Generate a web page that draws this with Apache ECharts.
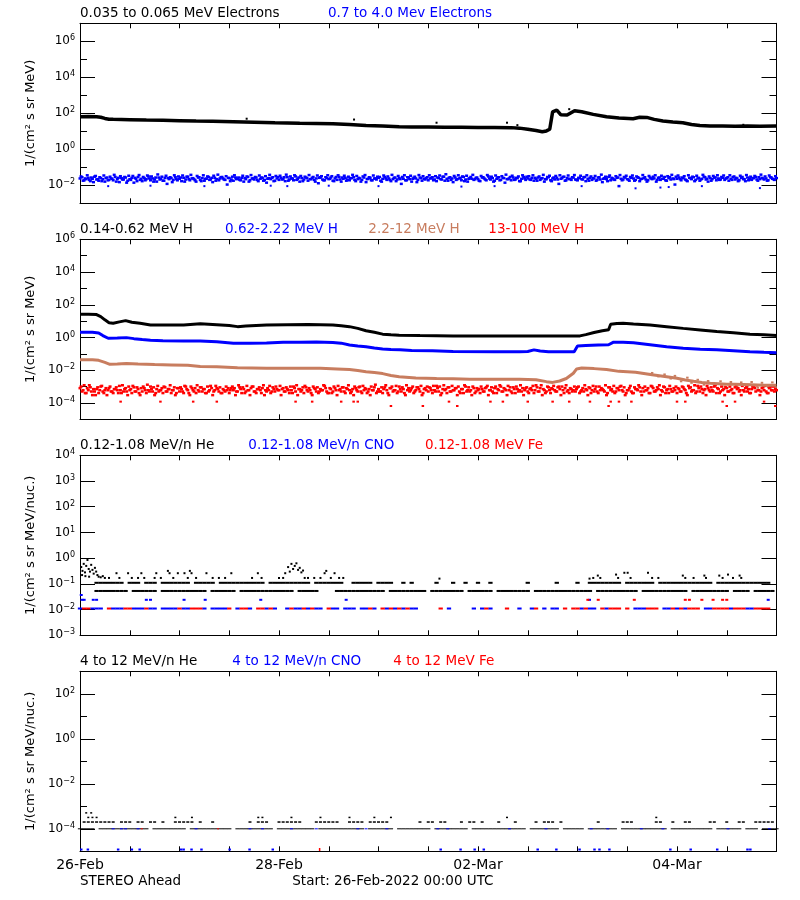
<!DOCTYPE html>
<html><head><meta charset="utf-8">
<script src="https://cdn.jsdelivr.net/npm/echarts@6/dist/echarts.min.js"></script>
<style>html,body{margin:0;padding:0;background:#fff}#c{width:800px;height:900px}</style>
</head><body><div id="c"></div>
<script>
const _ = null;
/* ---------- axis / text data ---------- */
const xTickHours = [0, 48, 96, 144];
const xTickLabels = ['26-Feb', '28-Feb', '02-Mar', '04-Mar'];
const footerLeft = 'STEREO Ahead';
const footerRight = 'Start: 26-Feb-2022 00:00 UTC';
const yRangeExp = [[-3, 7], [-5, 6], [-3, 4], [-5, 3]];
const yLabelExp = [[-2, 0, 2, 4, 6], [-4, -2, 0, 2, 4, 6], [-3, -2, -1, 0, 1, 2, 3, 4], [-4, -2, 0, 2]];
const yMinorExp = [[-1, 1, 3, 5], [-3, -1, 1, 3, 5], [], [-3, -1, 1]];
const yNames = ['1/(cm² s sr MeV)', '1/(cm² s sr MeV)', '1/(cm² s sr MeV/nuc.)', '1/(cm² s sr MeV/nuc.)'];
const panelTitles = [
  ['0.035 to 0.065 MeV Electrons', '0.7 to 4.0 Mev Electrons'],
  ['0.14-0.62 MeV H', '0.62-2.22 MeV H', '2.2-12 MeV H', '13-100 MeV H'],
  ['0.12-1.08 MeV/n He', '0.12-1.08 MeV/n CNO', '0.12-1.08 MeV Fe'],
  ['4 to 12 MeV/n He', '4 to 12 MeV/n CNO', '4 to 12 MeV Fe']
];

/* ---------- panel 1: electrons (hours since start, flux) ---------- */
const eLowBlack = [[0,65],[2,66],[4,64],[5,60],[6,52],[7,47],[8,46],[12,44],[16,42],[20,41],[24,39],[28,37],[32,36],[37,34],[42,32],[47,30],[53,28],[57,27],[61,26],[65,24],[69,21],[73,19.5],[77,18],[80,17.5],[84,17.5],[88,17],[92,17],[96,16.5],[100,16.5],[104,16],[106,15],[108,13],[110,11],[111.5,9.5],[112.5,10.5],[113.3,13],[114,120],[115,151],[116,82],[117.5,80],[119.3,140],[121,123],[123.8,87],[127,65],[130,55],[133.4,50],[135,60],[136.7,59],[138.5,46],[140.6,37],[143,33],[145.4,30],[147.5,24],[149.5,21],[152,20],[155,19.5],[158,19],[161,19.5],[164,19],[168,19.5]];
const eLowBlackOut = [[40.2,50],[66.1,45],[86,30],[103,30],[105.5,22],[118,170],[160,23]];
// 0.7-4.0 MeV electrons: values on the hour and half hour
const eHighBlue = [
.024,.028,.019,.022,.026,.017,.023,.030,.021,.018,.025,.022,.016,.027,.020,.024,.019,.029,.022,.015,.025,.021,.027,.018,
.022,.026,.014,.023,.029,.020,.017,.025,.022,.031,.019,.024,.021,.016,.027,.023,.018,.026,.012,.022,.025,.020,.028,.019,
.023,.017,.026,.021,.030,.019,.024,.022,.016,.027,.020,.025,.018,.023,.029,.021,.015,.026,.022,.019,.028,.024,.020,.011,
.025,.021,.018,.027,.023,.020,.026,.016,.022,.029,.019,.024,.021,.027,.017,.023,.026,.020,.014,.025,.022,.028,.018,.024,
.020,.026,.022,.017,.028,.021,.024,.019,.031,.023,.016,.025,.021,.027,.018,.022,.026,.020,.024,.013,.028,.021,.019,.025,
.022,.027,.018,.024,.020,.029,.016,.023,.026,.021,.019,.025,.028,.017,.022,.024,.020,.027,.015,.023,.026,.019,.024,.021,
.026,.018,.023,.029,.020,.024,.017,.022,.027,.021,.025,.012,.023,.019,.028,.022,.016,.026,.024,.020,.027,.018,.023,.025,
.019,.024,.028,.021,.017,.025,.022,.030,.018,.023,.026,.020,.015,.027,.022,.024,.019,.029,.021,.016,.025,.023,.020,.026,
.022,.017,.027,.024,.019,.031,.021,.025,.018,.023,.028,.020,.026,.014,.022,.024,.019,.027,.021,.025,.017,.023,.029,.020,
.024,.021,.026,.018,.023,.027,.020,.025,.016,.022,.028,.019,.024,.021,.026,.012,.023,.029,.018,.025,.022,.020,.027,.021,
.019,.025,.022,.028,.017,.023,.026,.020,.024,.018,.027,.021,.015,.025,.022,.029,.019,.024,.020,.026,.009,.023,.021,.027,
.022,.018,.026,.024,.020,.028,.017,.023,.025,.021,.019,.027,.022,.024,.016,.026,.020,.023,.029,.018,.025,.021,.024,.011,
.023,.027,.019,.025,.021,.017,.026,.022,.028,.020,.024,.018,.023,.030,.021,.016,.025,.022,.027,.019,.024,.021,.026,.020,
.025,.018,.023,.028,.021,.024,.019,.026,.022,.017,.027,.023,.020,.025,.029,.018,.022,.026,.021,.024,.019,.028,.023,.020,
.025];
// 0.7-4.0 MeV electrons: values at quarter past / quarter to the hour
const eHighBlueQ = [
.031,.018,.024,.036,.020,.027,.015,.033,.022,.028,.017,.035,.025,.019,.030,.023,.038,.016,.026,.032,.021,.029,.014,.034,
.020,.033,.026,.017,.037,.023,.029,.019,.035,.024,.031,.016,.027,.040,.021,.030,.018,.034,.025,.028,.015,.036,.022,.031,
.027,.035,.016,.030,.022,.038,.025,.019,.033,.028,.017,.036,.023,.031,.020,.026,.034,.018,.039,.024,.029,.021,.032,.026,
.017,.030,.036,.022,.027,.019,.034,.025,.031,.016,.037,.024,.029,.020,.035,.027,.018,.032,.023,.038,.026,.017,.033,.028,
.034,.021,.028,.039,.018,.031,.024,.036,.020,.027,.033,.017,.030,.025,.037,.022,.029,.016,.035,.026,.032,.019,.028,.036,
.023,.032,.017,.029,.036,.021,.027,.034,.018,.030,.025,.038,.020,.033,.026,.016,.031,.037,.022,.028,.019,.035,.024,.030,
.029,.016,.035,.024,.031,.020,.038,.026,.017,.033,.022,.029,.036,.019,.027,.034,.023,.030,.015,.037,.025,.032,.021,.028,
.036,.025,.019,.032,.027,.035,.021,.030,.041,.018,.028,.024,.033,.020,.036,.026,.031,.017,.034,.023,.029,.038,.022,.027,
.018,.033,.028,.021,.037,.024,.030,.016,.035,.027,.019,.032,.025,.039,.022,.029,.034,.020,.026,.031,.017,.036,.024,.030,
.032,.020,.036,.026,.018,.031,.024,.038,.022,.029,.034,.017,.027,.033,.021,.036,.025,.030,.019,.035,.023,.028,.037,.020,
.026,.034,.021,.029,.036,.018,.031,.025,.033,.020,.028,.039,.023,.030,.017,.035,.026,.021,.032,.027,.037,.019,.029,.034,
.021,.029,.035,.018,.031,.026,.022,.037,.028,.016,.033,.024,.030,.036,.020,.027,.034,.023,.019,.032,.028,.038,.022,.030,
.035,.022,.027,.032,.019,.036,.025,.030,.017,.034,.026,.021,.038,.028,.023,.031,.018,.033,.027,.036,.020,.029,.035,.024,
.028,.036,.020,.031,.026,.017,.034,.029,.022,.037,.019,.030,.025,.033,.021,.028,.039,.024,.031,.018,.035,.027,.022,.032];
const eHighBlueLow = [[6.8,0.009],[17,0.0095],[30,0.009],[46,0.0095],[50,0.009],[60,0.0095],[72,0.009],[92,0.0085],[100,0.009],[121,0.009],[134,0.0068],[140,0.0075],[142,0.008],[150,0.009],[164,0.007]];

/* ---------- panel 2: protons ---------- */
const hBlack = [[0,26],[2,26],[4,25],[5,19],[6,12],[7,8],[8,7.4],[9.5,9],[11,10.7],[12.5,8.5],[14.5,7.4],[17,5.8],[21,5.8],[25,5.8],[29,6.8],[33,6],[36,5.4],[38,4.6],[40,5],[45,5.8],[50,6],[55,6.2],[61,5.8],[63,5.2],[65,4.6],[67,3.6],[69,2.6],[71,2.1],[73,1.6],[75,1.45],[77,1.37],[82,1.3],[90,1.25],[100,1.25],[110,1.25],[116,1.25],[120.6,1.25],[122,1.5],[124,2.0],[126,2.6],[127.5,3.0],[128,6.4],[129.5,7.2],[131,7.4],[133.5,6.7],[137.5,5.8],[141.5,4.6],[145.5,3.6],[149.6,2.9],[153.6,2.3],[157.6,1.95],[161.6,1.6],[165,1.45],[168,1.3]];
const hBlue = [[0,2.1],[3,2.1],[4.5,1.9],[5.5,1.3],[6.8,0.9],[9,0.92],[11.2,0.98],[13,0.85],[15,0.75],[17,0.68],[20,0.64],[25,0.62],[29,0.6],[33,0.55],[37,0.45],[41,0.44],[45,0.46],[49,0.52],[53,0.52],[57,0.53],[61,0.5],[63,0.45],[65,0.35],[67,0.3],[69,0.27],[71,0.23],[73,0.2],[75,0.185],[77.2,0.175],[80,0.16],[85,0.155],[90,0.14],[100,0.135],[106,0.135],[108,0.14],[109.5,0.175],[111,0.15],[113,0.135],[116,0.135],[119.2,0.135],[120,0.3],[122,0.32],[125,0.35],[127.5,0.36],[128.7,0.52],[131,0.52],[133.5,0.48],[137.5,0.36],[141.5,0.27],[145.5,0.22],[149.6,0.19],[153.6,0.175],[157.6,0.155],[161.6,0.135],[165,0.125],[168,0.118]];
const hBrown = [[0,0.043],[3,0.043],[4.5,0.04],[6,0.03],[7.2,0.023],[9,0.024],[11.2,0.026],[14,0.024],[18,0.022],[22,0.021],[26,0.02],[29,0.017],[33,0.016],[38,0.014],[45,0.013],[52,0.013],[58,0.013],[62,0.012],[65,0.011],[67,0.0095],[69,0.0081],[71,0.0072],[73,0.0062],[75,0.0048],[77,0.004],[81,0.0033],[86,0.0031],[90,0.003],[94,0.0028],[100,0.0028],[106,0.0028],[110,0.0026],[112.5,0.002],[114,0.0018],[115.7,0.0022],[117.3,0.0031],[119,0.0065],[119.8,0.012],[121,0.0135],[124,0.0125],[127,0.011],[130,0.0085],[134,0.0075],[138,0.0052],[141.5,0.004],[144,0.0032],[146,0.0025],[148,0.0021],[150,0.0018],[152,0.0016],[154,0.0015],[156,0.0014],[158,0.0014],[162,0.0013],[165,0.0012],[168,0.0012]];
const hBrownScatter = [[138,0.0068],[139.5,0.0042],[141,0.0055],[142.5,0.0031],[143.5,0.0045],[145,0.0021],[146.5,0.0035],[147.5,0.0017],[149,0.0026],[150.5,0.0013],[151.5,0.0022],[153,0.0011],[154.5,0.0021],[155.5,0.001],[157,0.0019],[158.5,0.00095],[159.5,0.0018],[161,0.001],[162,0.0019],[163.5,0.00085],[164.5,0.0017],[166,0.00095],[167,0.0018],[167.8,0.0009]];
// 13-100 MeV H: values on the hour and half hour
const hRed = [
.0008,.0005,.0012,.0004,.0006,.0009,.0003,.0005,.0007,.0004,.0010,.0005,.0006,.0003,.0008,.0005,.0004,.0007,.0006,.0011,.0004,.0005,.0008,.0003,
.0006,.0004,.0009,.0005,.0007,.0003,.0005,.0008,.0004,.0006,.0010,.0005,.0003,.0007,.0005,.0006,.0004,.0009,.0005,.0007,.0004,.0006,.0003,.0008,
.0005,.0007,.0004,.0010,.0006,.0003,.0008,.0005,.0004,.0006,.0009,.0005,.0007,.0004,.0005,.0011,.0003,.0006,.0008,.0005,.0004,.0007,.0005,.0006,
.0004,.0008,.0006,.0003,.0005,.0009,.0004,.0007,.0005,.0006,.0003,.0010,.0005,.0004,.0007,.0006,.0008,.0003,.0005,.0006,.0004,.0009,.0005,.0007,
.0006,.0003,.0008,.0005,.0007,.0004,.0006,.0010,.0005,.0003,.0007,.0006,.0004,.0009,.0005,.0006,.0003,.0008,.0005,.0004,.0007,.0006,.0011,.0005,
.0004,.0007,.0005,.0008,.0003,.0006,.0005,.0009,.0004,.0007,.0006,.0005,.0003,.0008,.0005,.0010,.0004,.0006,.0007,.0005,.0003,.0006,.0009,.0004,
.0007,.0005,.0004,.0009,.0006,.0003,.0008,.0005,.0006,.0004,.0010,.0005,.0007,.0003,.0006,.0005,.0008,.0004,.0006,.0009,.0005,.0003,.0007,.0006,
.0005,.0008,.0004,.0006,.0011,.0005,.0003,.0007,.0006,.0004,.0009,.0005,.0006,.0008,.0003,.0005,.0007,.0004,.0010,.0006,.0005,.0003,.0008,.0005,
.0006,.0004,.0007,.0005,.0009,.0003,.0006,.0005,.0008,.0004,.0006,.0010,.0005,.0007,.0003,.0006,.0005,.0009,.0004,.0007,.0006,.0005,.0003,.0008,
.0005,.0007,.0006,.0004,.0012,.0005,.0008,.0003,.0006,.0005,.0009,.0004,.0007,.0006,.0005,.0010,.0003,.0006,.0008,.0005,.0004,.0007,.0006,.0005,
.0009,.0004,.0006,.0005,.0007,.0003,.0008,.0006,.0005,.0010,.0004,.0006,.0007,.0005,.0003,.0009,.0006,.0005,.0004,.0008,.0006,.0011,.0005,.0003,
.0006,.0008,.0005,.0004,.0007,.0006,.0009,.0003,.0005,.0006,.0008,.0004,.0010,.0005,.0006,.0007,.0003,.0005,.0009,.0006,.0004,.0007,.0005,.0006,
.0004,.0007,.0005,.0009,.0006,.0003,.0008,.0005,.0006,.0004,.0011,.0005,.0007,.0006,.0003,.0008,.0005,.0006,.0010,.0004,.0007,.0005,.0006,.0003,
.0008,.0005,.0006,.0004,.0009,.0007,.0005,.0003,.0006,.0008,.0005,.0004,.0007,.0010,.0005,.0006,.0003,.0008,.0006,.0005,.0004,.0009,.0006,.0005,
.0006];
// 13-100 MeV H: values at quarter past / quarter to the hour
const hRedQ = [
.0010,.0006,.0004,.0008,.0012,.0005,.0007,.0003,.0009,.0006,.0011,.0004,.0008,.0006,.0010,.0005,.0007,.0009,.0004,.0006,.0012,.0007,.0005,.0010,
.0007,.0011,.0005,.0009,.0004,.0008,.0010,.0006,.0013,.0005,.0007,.0009,.0004,.0011,.0006,.0008,.0010,.0005,.0007,.0012,.0006,.0009,.0004,.0008,
.0009,.0005,.0011,.0007,.0004,.0010,.0006,.0008,.0012,.0005,.0009,.0007,.0004,.0010,.0006,.0008,.0005,.0011,.0007,.0009,.0004,.0006,.0010,.0008,
.0006,.0010,.0008,.0005,.0012,.0007,.0009,.0004,.0011,.0006,.0008,.0010,.0005,.0007,.0009,.0004,.0012,.0006,.0008,.0011,.0005,.0007,.0010,.0006,
.0011,.0007,.0005,.0009,.0006,.0010,.0004,.0008,.0012,.0007,.0005,.0009,.0011,.0006,.0008,.0004,.0010,.0007,.0009,.0005,.0006,.0012,.0008,.0004,
.0008,.0004,.0010,.0006,.0011,.0007,.0009,.0005,.0008,.0012,.0004,.0007,.0010,.0006,.0009,.0005,.0011,.0008,.0004,.0007,.0010,.0006,.0013,.0005,
.0005,.0009,.0007,.0012,.0004,.0008,.0010,.0006,.0011,.0005,.0007,.0009,.0004,.0012,.0008,.0006,.0010,.0005,.0009,.0007,.0011,.0004,.0008,.0010,
.0009,.0006,.0011,.0005,.0008,.0010,.0004,.0012,.0007,.0009,.0005,.0011,.0006,.0008,.0010,.0004,.0007,.0012,.0005,.0009,.0006,.0010,.0004,.0008,
.0007,.0010,.0005,.0008,.0011,.0006,.0009,.0004,.0010,.0007,.0012,.0005,.0008,.0006,.0011,.0009,.0004,.0007,.0010,.0005,.0012,.0008,.0006,.0009,
.0004,.0008,.0011,.0006,.0009,.0005,.0012,.0007,.0004,.0010,.0006,.0008,.0011,.0005,.0009,.0007,.0010,.0004,.0012,.0006,.0008,.0005,.0010,.0007,
.0010,.0005,.0008,.0012,.0006,.0009,.0004,.0011,.0007,.0005,.0010,.0008,.0006,.0012,.0004,.0009,.0007,.0011,.0005,.0008,.0010,.0006,.0009,.0004,
.0006,.0011,.0004,.0009,.0007,.0012,.0005,.0008,.0010,.0006,.0004,.0011,.0008,.0005,.0009,.0012,.0006,.0010,.0004,.0007,.0011,.0005,.0008,.0010,
.0008,.0005,.0010,.0007,.0004,.0011,.0009,.0006,.0012,.0005,.0008,.0010,.0004,.0007,.0011,.0006,.0009,.0005,.0012,.0008,.0004,.0010,.0007,.0009,
.0005,.0010,.0007,.0004,.0012,.0008,.0006,.0011,.0005,.0009,.0007,.0004,.0010,.0008,.0012,.0006,.0005,.0009,.0011,.0004,.0008,.0006,.0010,.0007];
const hRedLow = [[9.8,1.2e-4],[19.4,1.2e-4],[27.3,1.2e-4],[33,1.2e-4],[52,1.2e-4],[56,1.2e-4],[63,1.2e-4],[66,1.2e-4],[67,1.2e-4],[75,6.5e-5],[82.7,6.5e-5],[89,1.2e-4],[91,6.5e-5],[99,1.2e-4],[102,1.2e-4],[108,1.2e-4],[114,1.2e-4],[118,1.2e-4],[123,1.2e-4],[127.5,6.5e-5],[128,1.2e-4],[130,1.2e-4],[133,1.2e-4],[144,1.2e-4],[146,1.2e-4],[155,1.2e-4],[156,6.5e-5],[158,1.2e-4],[165,1.2e-4],[167.7,6.5e-5]];

/* ---------- panel 3: 0.12-1.08 MeV/n heavy ions (hourly, null = no count) ---------- */
const he3Row1 = [
_,_,_,_,.053,.053,.053,.053,.053,.053,.053,.053,
_,.053,.053,.053,.053,.053,.053,_,.053,.053,.053,.053,
.053,.053,.053,.053,.053,.053,.053,_,.053,.053,.053,.053,
.053,.053,_,.053,.053,.053,.053,.053,.053,.053,.053,.053,
.053,.053,.053,.053,_,.053,.053,.053,.053,.053,_,_,
_,_,.053,.053,.053,.053,.053,.053,.053,.053,.053,.053,
.053,.053,_,.053,.053,.053,.053,.053,.053,.053,.053,.053,
_,.053,.053,.053,.053,.053,.053,.053,.053,_,.053,.053,
.053,.053,.053,.053,_,.053,.053,.053,.053,.053,.053,.053,
.053,_,.053,.053,.053,.053,.053,.053,.053,.053,.053,.053,
.053,.053,.053,.053,_,.053,.053,.053,.053,.053,.053,.053,
.053,.053,.053,_,.053,.053,.053,.053,.053,.053,.053,.053,
.053,.053,.053,_,.053,.053,.053,.053,.053,.053,.053,.053,
.053,_,.053,.053,.053,.053,_,.053,.053,.053,.053,.053,
_];
const he3Row2 = [
_,_,_,_,.11,.11,.11,.11,.11,.11,.11,_,
.11,.11,.11,_,.11,.11,.11,_,.11,.11,.11,.11,
.11,.11,.11,_,.11,.11,.11,.11,.11,_,.11,.11,
.11,.11,.11,.11,.11,.11,.11,.11,.11,_,.11,.11,
.11,.11,.11,.11,.11,.11,.11,.11,_,.11,.11,.11,
.11,.11,.11,.11,_,_,.11,.11,.11,.11,.11,_,
.11,.11,.11,.11,_,_,.11,_,.11,_,_,_,
_,_,.11,_,_,_,.11,_,_,.11,_,_,
.11,_,_,.11,_,_,_,_,_,_,_,_,
.11,_,_,_,_,_,_,.11,_,_,_,_,
.11,_,_,.11,.11,.11,.11,.11,.11,.11,.11,_,
.11,.11,.11,.11,.11,.11,.11,_,.11,.11,.11,.11,
.11,.11,.11,.11,.11,.11,.11,.11,.11,_,.11,.11,
.11,.11,.11,.11,.11,.11,.11,.11,.11,.11,.11,_,
_];
const he3Sparse = [[0.3,0.45],[0.5,0.22],[0.6,0.32],[0.9,0.6],[1.2,0.28],[1.3,0.2],[1.5,0.5],[1.8,0.85],[2.1,0.38],[2.2,0.19],[2.4,0.3],[2.7,0.55],[3,0.35],[3.3,0.25],[3.6,0.42],[3.9,0.3],[4.2,0.22],[4.5,0.19],[5,0.18],[5.5,0.2],
[6,0.17],[7,0.17],[8.8,0.26],[9.5,0.17],[11.6,0.26],[12.5,0.17],[14,0.17],[14.8,0.26],[15.5,0.17],[18,0.17],[18.4,0.26],[19.5,0.17],[21.2,0.32],[21.6,0.26],[22.5,0.17],[23.6,0.26],[25.2,0.26],[26,0.17],[26.5,0.32],[26.9,0.26],[28,0.17],[30.5,0.26],[32,0.17],[33.5,0.17],[35,0.17],[36.5,0.26],[41.5,0.17],[42.9,0.26],[43.8,0.17],[48,0.17],[49,0.17],[49.5,0.26],[50.2,0.45],[50.6,0.3],[51,0.6],[51.4,0.38],[51.8,0.5],[52.2,0.63],[52.6,0.35],[53,0.42],[53.4,0.28],[53.8,0.33],[54.2,0.17],[55,0.17],[56.5,0.17],[58,0.17],[59,0.26],[59.4,0.32],[60.5,0.17],[61.4,0.26],[62.5,0.17],[63.5,0.17],
[86.7,0.16],[122.9,0.16],[123.8,0.17],[124.9,0.21],[125.5,0.17],[129.3,0.23],[129.8,0.17],[131.3,0.27],[132.1,0.27],[132.8,0.17],[137,0.27],[138,0.17],[139.5,0.17],[145.4,0.21],[146,0.17],[148,0.17],[150.6,0.21],[151,0.17],[154.2,0.21],[155,0.17],[156.3,0.23],[157.5,0.17],[159.1,0.21],[159.5,0.17]];
const cno3Row = [
.011,_,_,.011,.011,.011,_,_,.011,.011,.011,_,
_,.011,.011,.011,_,.011,.011,_,.011,.011,.011,.011,
_,.011,.011,_,_,_,.011,_,.011,.011,.011,.011,
_,_,.011,_,_,.011,_,_,_,.011,_,.011,
_,_,.011,_,.011,.011,_,.011,_,.011,.011,_,
_,.011,.011,_,.011,.011,.011,_,.011,.011,_,.011,
_,_,.011,_,.011,_,.011,_,.011,.011,_,_,
_,_,_,_,_,.011,_,_,_,_,_,.011,
_,.011,_,.011,_,_,_,_,_,_,.011,_,
_,.011,_,_,.011,_,.011,.011,_,_,_,_,
_,.011,_,.011,.011,_,_,.011,_,_,_,_,
_,_,.011,.011,.011,_,_,_,_,.011,.011,_,
.011,_,.011,_,_,_,_,.011,.011,_,_,_,
_,.011,_,_,_,.011,.011,_,_,_,_,_,
_];
const fe3Row = [
_,.011,.011,_,_,_,_,.011,_,_,_,.011,
.011,_,_,_,.011,_,_,_,_,_,_,_,
.011,_,_,.011,.011,.011,_,_,_,_,_,_,
.011,_,_,.011,.011,_,_,.011,.011,_,.011,_,
_,_,_,.011,_,_,.011,_,.011,_,_,_,
.011,_,_,_,_,_,_,_,_,_,.011,_,
_,.011,_,.011,_,.011,_,.011,_,_,_,_,
_,_,_,.011,_,_,_,_,_,_,_,_,
_,_,.011,_,_,_,_,.011,_,_,_,_,
_,_,.011,_,_,_,_,_,_,.011,_,.011,
.011,_,.011,_,_,_,.011,_,.011,.011,.011,_,
.011,_,_,_,_,.011,.011,.011,_,_,_,.011,
_,.011,_,.011,.011,.011,_,_,_,.011,.011,.011,
.011,_,.011,.011,.011,_,_,.011,.011,.011,.011,_,
_];
const cno3Upper = [[0.3,0.037],[0.5,0.024],[1,0.024],[3.2,0.024],[4,0.024],[16,0.024],[17,0.024],[25.1,0.024],[30.2,0.024],[43.6,0.024],[64.2,0.024],[122.9,0.024],[166,0.024]];
const fe3Upper = [[122.5,0.024],[125,0.024],[133.7,0.024],[146,0.024],[147,0.024],[150,0.024],[152.7,0.024],[155,0.024],[156,0.024]];

/* ---------- panel 4: 4-12 MeV/n heavy ions ---------- */
const he4Row1 = [
1e-4,1e-4,1e-4,1e-4,_,1e-4,1e-4,1e-4,1e-4,1e-4,1e-4,1e-4,
1e-4,1e-4,1e-4,1e-4,1e-4,_,1e-4,1e-4,1e-4,1e-4,1e-4,1e-4,
1e-4,1e-4,_,1e-4,1e-4,1e-4,1e-4,1e-4,1e-4,1e-4,1e-4,1e-4,
1e-4,_,1e-4,1e-4,1e-4,1e-4,1e-4,1e-4,1e-4,1e-4,1e-4,_,
1e-4,1e-4,1e-4,1e-4,1e-4,1e-4,1e-4,1e-4,1e-4,_,1e-4,1e-4,
1e-4,1e-4,1e-4,1e-4,1e-4,1e-4,1e-4,1e-4,1e-4,_,1e-4,1e-4,
1e-4,1e-4,1e-4,1e-4,_,1e-4,1e-4,1e-4,1e-4,1e-4,1e-4,1e-4,
1e-4,_,1e-4,1e-4,1e-4,1e-4,1e-4,1e-4,1e-4,1e-4,_,1e-4,
1e-4,1e-4,1e-4,1e-4,1e-4,1e-4,1e-4,1e-4,1e-4,1e-4,1e-4,1e-4,
_,1e-4,1e-4,1e-4,1e-4,1e-4,1e-4,1e-4,_,1e-4,1e-4,1e-4,
1e-4,1e-4,_,1e-4,1e-4,1e-4,1e-4,1e-4,1e-4,1e-4,_,1e-4,
1e-4,1e-4,1e-4,1e-4,1e-4,1e-4,1e-4,1e-4,1e-4,1e-4,_,1e-4,
1e-4,1e-4,1e-4,1e-4,1e-4,1e-4,1e-4,1e-4,1e-4,_,1e-4,1e-4,
1e-4,1e-4,1e-4,1e-4,_,1e-4,1e-4,1e-4,_,1e-4,1e-4,1e-4,
1e-4];
const he4Row2Hours = [1,2,3,4,5,6,7,8,10,11,12,14,15,17,18,20,23,24,25,26,27,29,32,41,43,44,45,48,49,50,51,52,53,57,58,59,60,61,62,65,66,67,68,70,71,72,73,74,82,84,85,87,88,92,94,95,97,101,105,110,112,113,114,116,125,131,132,133,139,140,143,146,147,152,153,156,159,160,163,164,165,166,167];
const he4Row2Level = 2.0e-4;
const he4Row3Hours = [2,3,4,23,27,43,44,51,58,65,71,75,103,139];
const he4Row3Level = 3.2e-4;
const he4Row4Hours = [1.5,2.7];
const he4Row4Level = 5.1e-4;
const cno4RowHours = [8,10,11,14,28,41,44,51,57,67,69,74,86.3,88.7,103.6,112.4,123.3,127.3,135.4,140.6,156.3,166.3];
const cno4RowLevel = 1.0e-4;
const cno4LowHours = [0.3,1.9,9.2,12.5,14.4,24.4,25,26.9,29.3,36.1,40.9,46.5,87,91.8,95.2,97.4,110.4,114.9,120.5,124.1,125.3,127.7,142.4,147.3,153.7,161,161.7];
const cno4LowLevel = 1.2e-5;
const fe4RowHours = [14.9,33.3];
const fe4RowLevel = 1.0e-4;
const fe4LowHours = [57.8];
const fe4LowLevel = 1.2e-5;

/* ---------- layout & style ---------- */
const FONT = "'DejaVu Sans', sans-serif";
const TEXT_FONT = '13.5px ' + FONT;
const GRID_LEFT = 80, GRID_W = 696.5, GRID_H = 180;
const GRID_TOP = [23.3, 239.3, 455.3, 671.3];
const TITLE_X = [[80, 328], [80, 225, 368.3, 488.3], [80, 248.3, 425], [80, 232.3, 393.3]];
const BLACK = '#000000', BLUE = '#0000ff', BROWN = '#c87d5f', RED = '#ff0000';
const TITLE_COLORS = [[BLACK, BLUE], [BLACK, BLUE, BROWN, RED], [BLACK, BLUE, RED], [BLACK, BLUE, RED]];

const lg = v => Math.log10(v);
const fromPairs = a => a.map(p => [p[0], lg(p[1])]);
const fromHourly = a => a.map((v, h) => v == null ? null : [h, lg(v)]).filter(p => p);
const fromHalfHourly = (a, offset) => a.map((v, i) => [i / 2 + offset, lg(v)]);
const atLevel = (hours, level) => hours.map(h => [h, lg(level)]);

const axisLineStyle = { color: '#000', width: 1 };
const grids = [], xAxes = [], yAxes = [], series = [];
const expFmt = v => '{b|10}{s|' + (v < 0 ? '\u2212' + (-v) : v) + '}';
const rich = {
  b: { fontSize: 12, fontFamily: FONT, color: '#000', lineHeight: 14 },
  s: { fontSize: 8, fontFamily: FONT, color: '#000', lineHeight: 9, verticalAlign: 'top' }
};

for (let p = 0; p < 4; p++) {
  grids.push({ left: GRID_LEFT, top: GRID_TOP[p], width: GRID_W, height: GRID_H, show: false });
  const xBase = {
    gridIndex: p, type: 'value', min: 0, max: 168, interval: 12, splitLine: { show: false },
    axisLine: { show: true, onZero: false, lineStyle: axisLineStyle },
    axisTick: { show: true, inside: true, length: 5, lineStyle: axisLineStyle }
  };
  xAxes.push(Object.assign({}, xBase, {
    position: 'bottom',
    axisLabel: p === 3 ? {
      show: true, customValues: xTickHours,
      formatter: v => { const i = xTickHours.indexOf(v); return i >= 0 ? xTickLabels[i] : ''; },
      color: '#000', fontSize: 14, fontFamily: FONT, margin: 7
    } : { show: false }
  }));
  xAxes.push(Object.assign({}, xBase, { position: 'top', axisLabel: { show: false } }));

  const yBase = { gridIndex: p, type: 'value', min: yRangeExp[p][0], max: yRangeExp[p][1], splitLine: { show: false } };
  const hasMinor = yMinorExp[p].length > 0;
  yAxes.push(Object.assign({}, yBase, {
    position: 'left',
    axisLine: { show: true, onZero: false, lineStyle: axisLineStyle },
    axisTick: { show: true, inside: true, length: 15, customValues: yLabelExp[p], lineStyle: axisLineStyle },
    axisLabel: { show: true, customValues: yLabelExp[p], formatter: expFmt, margin: 5, rich: rich },
    name: yNames[p], nameLocation: 'middle', nameGap: 33,
    nameTextStyle: { fontSize: 13, fontFamily: FONT, color: '#000' }
  }));
  yAxes.push(Object.assign({}, yBase, {
    position: 'left', axisLine: { show: false, onZero: false },
    axisTick: { show: hasMinor, inside: true, length: 7, customValues: hasMinor ? yMinorExp[p] : [0], lineStyle: axisLineStyle },
    axisLabel: { show: false }
  }));
  yAxes.push(Object.assign({}, yBase, {
    position: 'right',
    axisLine: { show: true, onZero: false, lineStyle: axisLineStyle },
    axisTick: { show: true, inside: true, length: 15, customValues: yLabelExp[p], lineStyle: axisLineStyle },
    axisLabel: { show: false }
  }));
  yAxes.push(Object.assign({}, yBase, {
    position: 'right', axisLine: { show: false, onZero: false },
    axisTick: { show: hasMinor, inside: true, length: 7, customValues: hasMinor ? yMinorExp[p] : [0], lineStyle: axisLineStyle },
    axisLabel: { show: false }
  }));
}

function line(p, data, color, width) {
  return { type: 'line', xAxisIndex: 2 * p, yAxisIndex: 4 * p, data: data, showSymbol: false, symbol: 'none',
    lineStyle: { color: color, width: width }, itemStyle: { color: color }, silent: true, animation: false, clip: true };
}
function dots(p, data, color, size) {
  return { type: 'scatter', xAxisIndex: 2 * p, yAxisIndex: 4 * p, data: data, symbol: 'rect', symbolSize: size,
    itemStyle: { color: color, opacity: 1 }, silent: true, animation: false, clip: true };
}

// panel 1
series.push(line(0, fromPairs(eLowBlack), BLACK, 3.5));
series.push(dots(0, fromPairs(eLowBlackOut), BLACK, [2, 2]));
series.push(dots(0, fromHalfHourly(eHighBlue, 0), BLUE, [3, 2.5]));
series.push(dots(0, fromHalfHourly(eHighBlueQ, 0.25), BLUE, [3, 2.5]));
series.push(dots(0, fromPairs(eHighBlueLow), BLUE, [2, 2]));
// panel 2
series.push(line(1, fromPairs(hBlack), BLACK, 3));
series.push(line(1, fromPairs(hBlue), BLUE, 3));
series.push(line(1, fromPairs(hBrown), BROWN, 3));
series.push(dots(1, fromPairs(hBrownScatter), BROWN, [2.5, 2]));
series.push(dots(1, fromHalfHourly(hRed, 0), RED, [3, 2.5]));
series.push(dots(1, fromHalfHourly(hRedQ, 0.25), RED, [3, 2.5]));
series.push(dots(1, fromPairs(hRedLow), RED, [2.5, 2]));
// panel 3
series.push(dots(2, fromHourly(he3Row1), BLACK, [4.3, 2]));
series.push(dots(2, fromHourly(he3Row2), BLACK, [4.3, 2]));
series.push(dots(2, fromPairs(he3Sparse), BLACK, [2, 2]));
series.push(dots(2, fromHourly(cno3Row), BLUE, [4.3, 2]));
series.push(dots(2, fromPairs(cno3Upper), BLUE, [3, 2]));
series.push(dots(2, fromHourly(fe3Row), RED, [4.3, 2]));
series.push(dots(2, fromPairs(fe3Upper), RED, [3, 2]));
// panel 4
series.push(dots(3, fromHourly(he4Row1), BLACK, [4.3, 1]));
series.push(dots(3, atLevel(he4Row2Hours, he4Row2Level), BLACK, [3, 1.5]));
series.push(dots(3, atLevel(he4Row3Hours, he4Row3Level), BLACK, [2, 1.5]));
series.push(dots(3, atLevel(he4Row4Hours, he4Row4Level), BLACK, [2, 1.5]));
series.push(dots(3, atLevel(cno4RowHours, cno4RowLevel), BLUE, [3, 1]));
series.push(dots(3, atLevel(cno4LowHours, cno4LowLevel), BLUE, [2.5, 2]));
series.push(dots(3, atLevel(fe4RowHours, fe4RowLevel), RED, [2, 1]));
series.push(dots(3, atLevel(fe4LowHours, fe4LowLevel), RED, [1.5, 3]));

// titles & footer
const graphic = [];
function txt(text, x, y, color) {
  return { type: 'text', silent: true, style: { text: text, x: x, y: y, fill: color, font: TEXT_FONT,
    textAlign: 'left', textVerticalAlign: 'middle', align: 'left', verticalAlign: 'middle' } };
}
for (let p = 0; p < 4; p++) {
  panelTitles[p].forEach((t, i) => graphic.push(txt(t, TITLE_X[p][i], GRID_TOP[p] - 10, TITLE_COLORS[p][i])));
}
graphic.push(txt(footerLeft, 80, 881, BLACK));
graphic.push(txt(footerRight, 292.3, 881, BLACK));

const chart = echarts.init(document.getElementById('c'), null, { renderer: 'canvas', width: 800, height: 900 });
chart.setOption({
  backgroundColor: '#ffffff',
  animation: false,
  grid: grids, xAxis: xAxes, yAxis: yAxes, series: series, graphic: graphic
});
</script>
</body></html>
